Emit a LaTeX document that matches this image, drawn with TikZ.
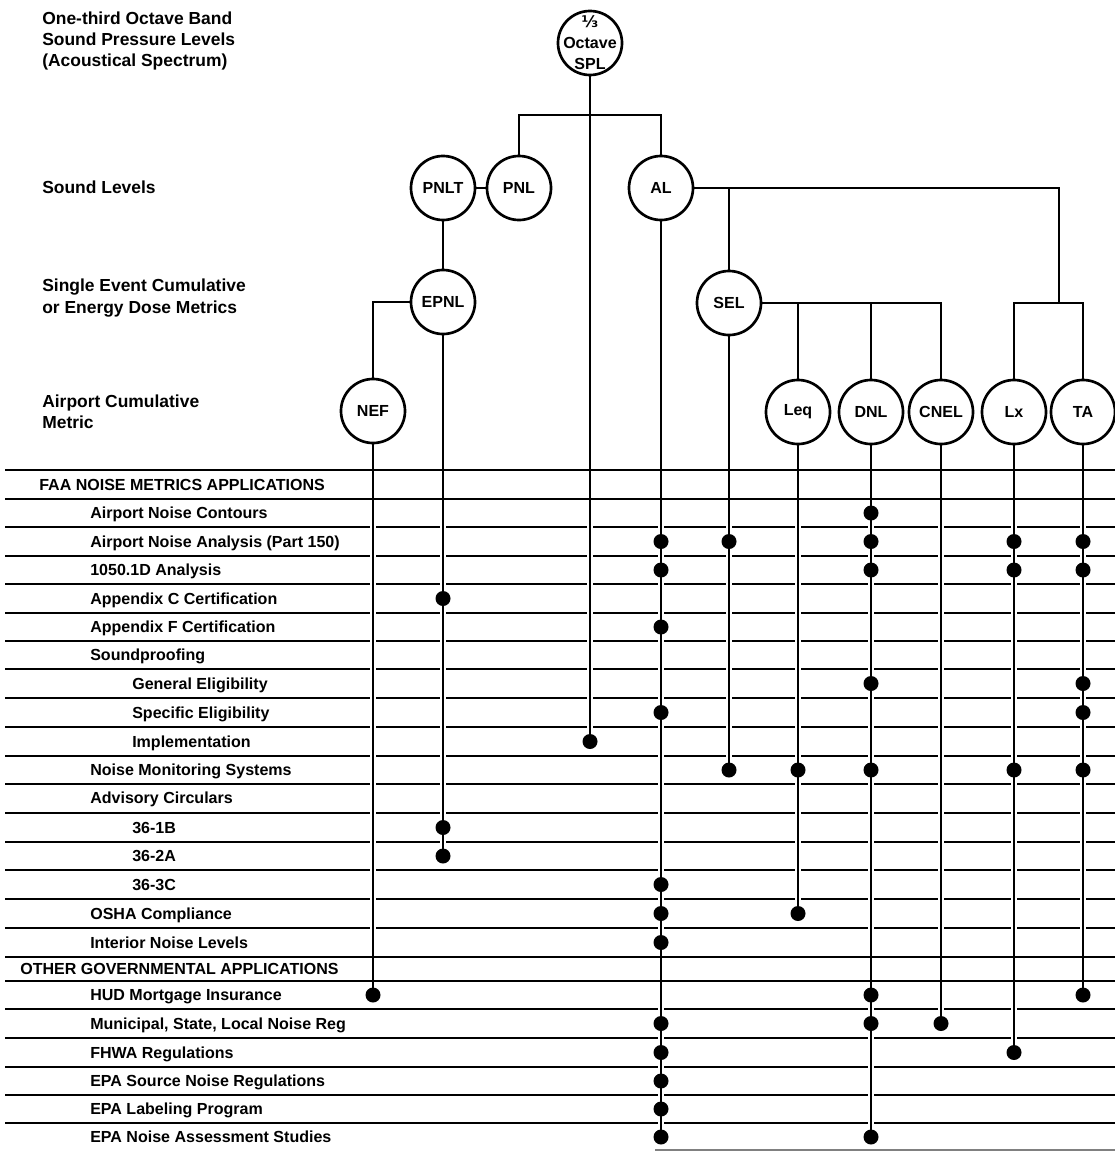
\documentclass[tikz,border=0pt]{standalone}
\usepackage{fontspec}
\setmainfont{Liberation Sans}
\newfontfamily\fracfont{DejaVu Sans}

\begin{document}
\begin{tikzpicture}[x=0.025cm,y=-0.025cm,
  every node/.append style={font=\bfseries\fontsize{11.4}{15}\selectfont},
  metric/.style={draw,circle,line width=1.9pt,minimum size=1.6cm,inner sep=0pt},
  level/.style={anchor=west,align=left,inner sep=0pt,font=\bfseries\fontsize{12.4}{15}\selectfont},
  rowtext/.style={anchor=west,inner sep=0pt,text height=8.2pt,text depth=0pt},
  tree/.style={line width=1.6pt},
  halo/.style={white,line width=4.5pt},
  rule/.style={line width=1.1pt},
  boldrule/.style={line width=2pt}]
\useasboundingbox (0,0) rectangle (1115,1152);

% levels of the metrics tree
\node[level] (lspec) at (42,41) {One-third Octave Band\\Sound Pressure Levels\\(Acoustical Spectrum)};
\node[level] (lsound) at (42,187) {Sound Levels};
\node[level] (lsingle) at (42,298) {Single Event Cumulative\\or Energy Dose Metrics};
\node[level] (lairport) at (42,412) {Airport Cumulative\\Metric};

% metrics
\node[metric] (spl) at (590,43) {};
\node[align=center,inner sep=0pt] (spltext) at (spl) {{\fracfont\bfseries ⅓}\\Octave\\SPL};
\node[metric] (pnlt) at (443,188) {PNLT};
\node[metric] (pnl) at (519,188) {PNL};
\node[metric] (al) at (661,188) {AL};
\node[metric] (epnl) at (443,302) {EPNL};
\node[metric] (sel) at (729,303) {SEL};
\node[metric] (nef) at (373,411) {NEF};
\node[metric] (leq) at (798,412) {Leq};
\node[metric] (dnl) at (871,412) {DNL};
\node[metric] (cnel) at (941,412) {CNEL};
\node[metric] (lx) at (1014,412) {Lx};
\node[metric] (ta) at (1083,412) {TA};
\coordinate (splbus) at (590,115);
\coordinate (albus) at (1059,188);
\coordinate (top) at (0,472);

% tree
\draw[tree] (pnlt) -- (pnl);
\draw[tree] (pnlt) -- (epnl);
\draw[tree] (epnl) -| (nef);
\draw[tree] (pnl) |- (splbus) -| (al);
\draw[tree] (al) -- (albus) -- (albus |- sel);
\draw[tree] (sel) -- (sel |- al);
\draw[tree] (lx) |- (albus |- sel) -| (ta);
\draw[tree] (sel) -- (cnel |- sel) -- (cnel);
\draw[tree] (leq) -- (leq |- sel);
\draw[tree] (dnl) -- (dnl |- sel);

% applications
\foreach \n/\x/\y/\t in {
  1/39/484.5/FAA NOISE METRICS APPLICATIONS,
  2/90/513/Airport Noise Contours,
  3/90/541.5/Airport Noise Analysis (Part 150),
  4/90/570/1050.1D Analysis,
  5/90/598.5/Appendix C Certification,
  6/90/627/Appendix F Certification,
  7/90/655/Soundproofing,
  8/132/683.5/General Eligibility,
  9/132/712.5/Specific Eligibility,
  10/132/741.5/Implementation,
  11/90/770/Noise Monitoring Systems,
  12/90/798/Advisory Circulars,
  13/132/827.5/36-1B,
  14/132/856/36-2A,
  15/132/884.5/36-3C,
  16/90/913.5/OSHA Compliance,
  17/90/942.5/Interior Noise Levels,
  18/20/969/OTHER GOVERNMENTAL APPLICATIONS,
  19/90/995/HUD Mortgage Insurance,
  20/90/1023.5/{Municipal, State, Local Noise Reg},
  21/90/1052.5/FHWA Regulations,
  22/90/1081/EPA Source Noise Regulations,
  23/90/1109/EPA Labeling Program,
  24/90/1137/EPA Noise Assessment Studies}
  \node[rowtext] (r\n) at (\x,\y) {\t};

\foreach \y in {527,556,584,613,641,669,698,727,756,784,813,842,870,899,928,1009,1038,1067,1095,1123}
  \draw[rule] (5,\y) -- (1115,\y);
\draw[gray,line width=0.8pt] (655,1150) -- (1115,1150);

% columns down to the last application
\foreach \c/\r in {nef/19,epnl/14,spl/10,al/24,sel/11,leq/16,dnl/24,cnel/20,lx/21,ta/19}
  \draw[halo] (\c |- top) -- (\c |- r\r);
\foreach \y in {470,499,957,981}
  \draw[boldrule] (5,\y) -- (1115,\y);
\foreach \c/\r in {nef/19,epnl/14,spl/10,al/24,sel/11,leq/16,dnl/24,cnel/20,lx/21,ta/19}
  \draw[tree] (\c) -- (\c |- r\r);

\foreach \c/\rows in {nef/{19},epnl/{5,13,14},spl/{10},
    al/{3,4,6,9,15,16,17,20,21,22,23,24},sel/{3,11},leq/{11,16},
    dnl/{2,3,4,8,11,19,20,24},cnel/{20},lx/{3,4,11,21},ta/{3,4,8,9,11,19}}
  \foreach \r in \rows
    \fill (\c |- r\r) circle (7.5);
\end{tikzpicture}
\end{document}
